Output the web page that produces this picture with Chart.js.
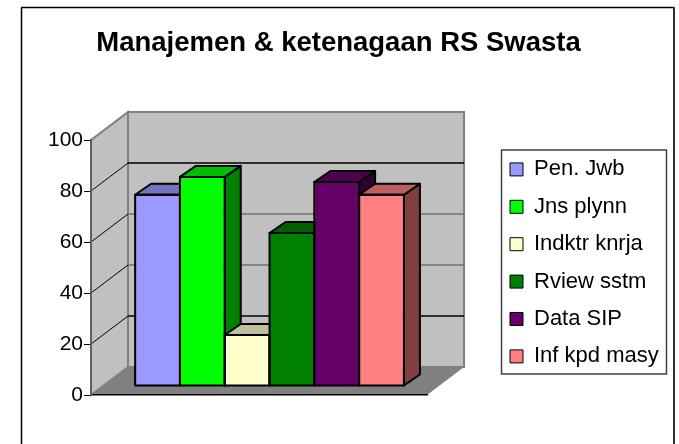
<!DOCTYPE html>
<html>
<head>
<meta charset="utf-8">
<title>Manajemen & ketenagaan RS Swasta</title>
<script src="https://cdn.jsdelivr.net/npm/chart.js@4"></script>
<style>
html, body { margin: 0; padding: 0; background: #fff; }
#wrap { width: 679px; height: 444px; }
</style>
</head>
<body>
<div id="wrap"><canvas id="chart" width="679" height="444"></canvas></div>
<script>
// Data
const category = ['Manajemen'];
const seriesNames = ['Pen. Jwb', 'Jns plynn', 'Indktr knrja', 'Rview sstm', 'Data SIP', 'Inf kpd masy'];
const seriesValues = [75, 82, 20, 60, 80, 75];
const seriesColors = ['#9999ff', '#00ff00', '#ffffcc', '#008000', '#660066', '#ff8080'];
const yTicks = [0, 20, 40, 60, 80, 100];
const gridColors = { 20: '#000000', 40: '#707070', 60: '#707070', 80: '#000000' };

// 3D look: how far back the wall and the bars sit
const wallDepth = { x: 37, y: -28 };
const barShift = { x: 10.5, y: -9 };
const barDepth = { x: 16, y: -11 };

function shade(hex, f) {
    const n = parseInt(hex.slice(1), 16);
    const r = Math.round((n >> 16 & 255) * f);
    const g = Math.round((n >> 8 & 255) * f);
    const b = Math.round((n & 255) * f);
    return `rgb(${r},${g},${b})`;
}

function poly(ctx, pts, fill, stroke, lw) {
    ctx.beginPath();
    pts.forEach((p, i) => i ? ctx.lineTo(p[0], p[1]) : ctx.moveTo(p[0], p[1]));
    ctx.closePath();
    if (fill) { ctx.fillStyle = fill; ctx.fill(); }
    if (stroke) { ctx.strokeStyle = stroke; ctx.lineWidth = lw; ctx.stroke(); }
}

function line(ctx, x1, y1, x2, y2, color, lw) {
    ctx.beginPath();
    ctx.moveTo(x1, y1);
    ctx.lineTo(x2, y2);
    ctx.strokeStyle = color;
    ctx.lineWidth = lw;
    ctx.stroke();
}

// Frame, walls, floor and gridlines go under everything else
const walls = {
    id: 'walls',
    beforeDraw(chart) {
        const ctx = chart.ctx;
        const y = chart.scales.y;
        const a = chart.chartArea;
        const d = wallDepth;
        ctx.save();
        // the frame is cut off at the bottom of the picture
        line(ctx, 21.5, 444, 21.5, 7.5, '#000', 1.5);
        line(ctx, 21, 7.5, 674, 7.5, '#000', 1.5);
        line(ctx, 674, 7, 674, 444, '#303030', 2);

        poly(ctx, [[a.left, a.top], [a.left + d.x, a.top + d.y], [a.left + d.x, a.bottom + d.y], [a.left, a.bottom]], '#c0c0c0', '#808080', 2);
        poly(ctx, [[a.left + d.x, a.top + d.y], [a.right + d.x, a.top + d.y], [a.right + d.x, a.bottom + d.y], [a.left + d.x, a.bottom + d.y]], '#c0c0c0', '#808080', 2);
        poly(ctx, [[a.left, a.bottom], [a.left + d.x, a.bottom + d.y], [a.right + d.x, a.bottom + d.y], [a.right, a.bottom]], '#808080');

        yTicks.slice(1, -1).forEach(v => {
            const py = y.getPixelForValue(v);
            line(ctx, a.left, py, a.left + d.x, py + d.y, '#000', 1);
            line(ctx, a.left + d.x, py + d.y, a.right + d.x, py + d.y, gridColors[v], 1.5);
        });
        line(ctx, a.left, a.top, a.left + d.x, a.top + d.y, '#808080', 1.5);
        ctx.restore();
    }
};

// Legend sits outside the plot, in its own bordered box; title is centred on the frame
const legendBox = {
    id: 'legendBox',
    afterLayout(chart) {
        const l = chart.legend;
        l.left = 494.6;
        l.right = 672;
        l.top = 143;
        l.bottom = 420;
        l.height = l.bottom - l.top;
        chart.titleBlock.left = 0;
        chart.titleBlock.right = 677;
    },
    afterDraw(chart) {
        const ctx = chart.ctx;
        ctx.save();
        ctx.strokeStyle = '#404040';
        ctx.lineWidth = 1.5;
        ctx.strokeRect(501.5, 150, 165, 224);
        ctx.restore();
    }
};

// Bars are painted left to right so each one covers its neighbour's side face
const bars3d = {
    id: 'bars3d',
    beforeDatasetDraw() {
        return false;
    },
    afterDatasetsDraw(chart) {
        const ctx = chart.ctx;
        ctx.save();
        ctx.translate(barShift.x, barShift.y);
        ctx.lineJoin = 'round';
        const d = barDepth;
        chart.data.datasets.forEach((ds, i) => {
            const bar = chart.getDatasetMeta(i).data[0];
            const l = bar.x - bar.width / 2;
            const r = bar.x + bar.width / 2;
            const t = bar.y;
            const b = bar.base;
            const color = ds.backgroundColor;
            poly(ctx, [[r, t], [r + d.x, t + d.y], [r + d.x, b + d.y], [r, b]], shade(color, 0.5), '#000', 2);
            poly(ctx, [[l, t], [l + d.x, t + d.y], [r + d.x, t + d.y], [r, t]], shade(color, 0.75), '#000', 2);
            bar.draw(ctx);
            ctx.strokeStyle = '#000';
            ctx.lineWidth = 2;
            ctx.strokeRect(l, t, r - l, b - t);
        });
        ctx.restore();
    }
};

new Chart(document.getElementById('chart'), {
    type: 'bar',
    data: {
        labels: category,
        datasets: seriesNames.map((name, i) => ({
            label: name,
            data: [seriesValues[i]],
            backgroundColor: seriesColors[i],
            borderColor: '#000',
            borderWidth: 1,
            barPercentage: 1,
            categoryPercentage: 0.8
        }))
    },
    options: {
        responsive: false,
        animation: false,
        layout: { padding: { left: 47, right: 125.3, top: 0, bottom: 0 } },
        plugins: {
            title: {
                display: true,
                text: 'Manajemen & ketenagaan RS Swasta',
                color: '#000',
                font: { family: 'Liberation Sans', size: 27.5, weight: 'bold' },
                padding: { top: 27, bottom: 80 }
            },
            legend: {
                position: 'right',
                align: 'start',
                labels: {
                    color: '#000',
                    font: { family: 'Liberation Sans', size: 22 },
                    boxWidth: 13,
                    boxHeight: 13,
                    padding: 15.4
                }
            },
            tooltip: { enabled: false }
        },
        scales: {
            x: {
                afterFit(axis) { axis.height = 49; },
                grid: { display: false },
                border: { color: '#000', width: 1.5 },
                ticks: { display: false }
            },
            y: {
                min: 0,
                max: 100,
                afterBuildTicks(axis) { axis.ticks = yTicks.map(v => ({ value: v })); },
                grid: { drawOnChartArea: false, color: '#000', tickLength: 7 },
                border: { color: '#606060', width: 2 },
                ticks: {
                    color: '#000',
                    padding: 1,
                    font: { family: 'Liberation Sans', size: 21 }
                }
            }
        }
    },
    plugins: [walls, bars3d, legendBox]
});
</script>
</body>
</html>
